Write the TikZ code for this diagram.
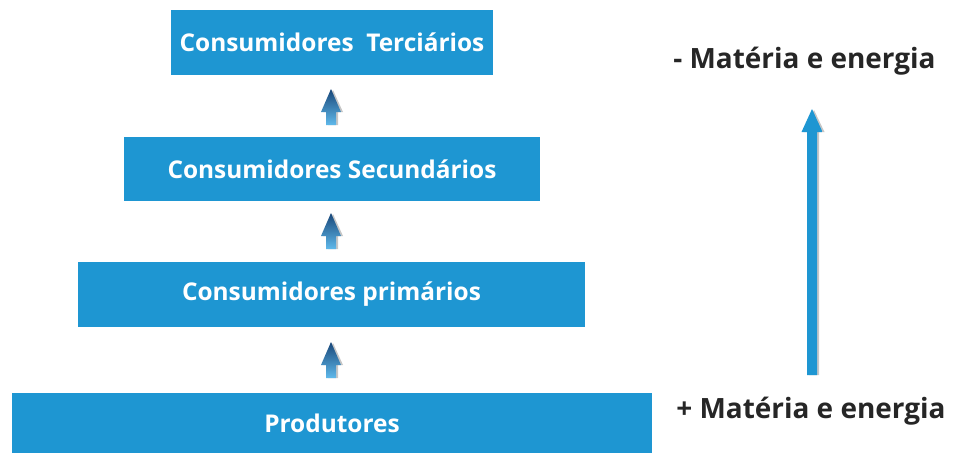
\documentclass[tikz,border=0pt]{standalone}
\usepackage{fontspec}
\setmainfont{Open Sans}
\usetikzlibrary{positioning}

\definecolor{caixa}{RGB}{30,150,210}
\definecolor{setaescura}{RGB}{24,70,120}
\definecolor{setaclara}{RGB}{95,185,235}

% seta vertical: x, y da ponta, y da base, meia largura do corpo, meia largura da cabeca, comprimento da cabeca
\newcommand{\seta}[7]{%
  \fill[gray!45] (#1-#4+2,#3) -- (#1-#4+2,#2+#6) -- (#1-#5+2,#2+#6) -- (#1+2,#2+1) -- (#1+#5+2,#2+#6) -- (#1+#4+2,#2+#6) -- (#1+#4+2,#3) -- cycle;
  \shade[#7] (#1-#4,#3) -- (#1-#4,#2+#6) -- (#1-#5,#2+#6) -- (#1,#2) -- (#1+#5,#2+#6) -- (#1+#4,#2+#6) -- (#1+#4,#3) -- cycle;
}

\begin{document}
\begin{tikzpicture}[x=0.02cm, y=-0.02cm,
    nivel/.style={rectangle, fill=caixa, text=white, font=\bfseries\fontsize{13.9}{16}\selectfont, inner sep=0pt},
    rotulo/.style={anchor=west, font=\bfseries\fontsize{15.9}{19}\selectfont, text=black!85, inner sep=0pt},
    gradiente/.style={top color=setaescura, bottom color=setaclara},
    plano/.style={top color=caixa, bottom color=caixa}]

\useasboundingbox (0,0) rectangle (955,453);

% Niveis troficos
\node[nivel, minimum width=6.44cm, minimum height=1.3cm] (terc) at (332,42.5) {Consumidores\ \ Terciários};
\node[nivel, minimum width=8.32cm, minimum height=1.28cm] (sec) at (332,169) {Consumidores Secundários};
\node[nivel, minimum width=10.14cm, minimum height=1.3cm] (prim) at (331.5,294.5) {Consumidores primários};
\node[nivel, minimum width=12.8cm, minimum height=1.2cm] (prod) at (332,423) {Produtores};

% Rotulos
\node[rotulo] (menos) at (673,61) {- Matéria e energia};
\node[rotulo] (mais) at (676,411) {+ Matéria e energia};

% Setas entre niveis
\seta{331}{89}{125}{5}{10}{23}{gradiente}
\seta{331}{213}{249}{5}{10}{23}{gradiente}
\seta{331}{342}{378}{5}{10}{23}{gradiente}

% Seta grande
\seta{812}{109}{375}{5}{10.5}{23}{plano}

\end{tikzpicture}
\end{document}
